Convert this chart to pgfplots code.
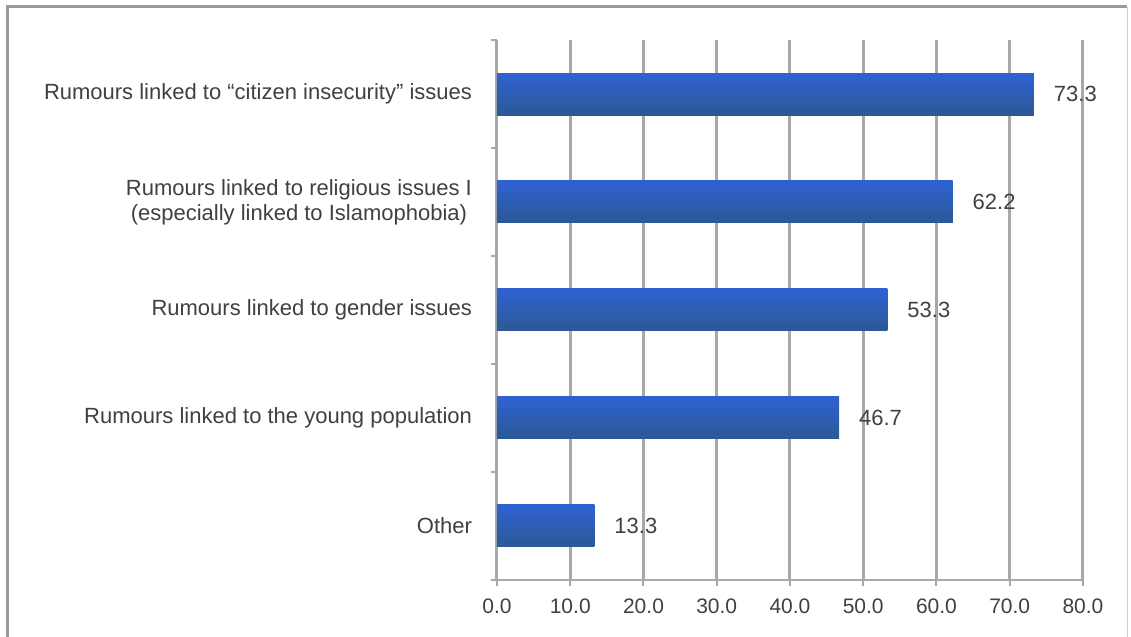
\documentclass[border=0pt]{standalone}
\usepackage{pgfplots}
\pgfplotsset{compat=1.18}
\usepackage{fontspec}
\setmainfont{Liberation Sans}
\definecolor{txt}{HTML}{404040}
\definecolor{gridc}{HTML}{A8A8A8}
\definecolor{bartop}{HTML}{2E62D2}
\definecolor{barbot}{HTML}{2C5894}
\definecolor{framec}{HTML}{9A9A9A}
\begin{document}
\begin{tikzpicture}
\useasboundingbox (0,0) rectangle (565.5pt,318.5pt);
\draw[framec, line width=1.5pt] (3.5pt,0) -- (3.5pt,315pt) -- (563.5pt,315pt);
\draw[framec!50, line width=0.5pt] (563.5pt,315pt) -- (563.5pt,0);
\begin{axis}[
  at={(248.5pt,28.5pt)}, anchor=south west,
  scale only axis, width=293pt, height=270pt,
  xbar, bar width=21pt, bar shift=0pt,
  xmin=0, xmax=80, ymin=-0.5, ymax=4.5,
  xtick={0,10,...,80},
  xticklabel={\pgfmathprintnumber[fixed,fixed zerofill,precision=1]{\tick}},
  /pgf/number format/assume math mode=true,
  ytick={0,1,2,3,4},
  yticklabels={Other, Rumours linked to the young population, Rumours linked to gender issues, {Rumours linked to religious issues I\\(especially linked to Islamophobia)}, Rumours linked to “citizen insecurity” issues},
  yticklabel style={align=center, font=\fontsize{11}{12.5}\selectfont, text=txt, xshift=-6pt},
  xticklabel style={font=\fontsize{10.5}{12}\selectfont, text=txt, yshift=-3pt},
  ytick style={draw=none},
  extra y ticks={-0.5,0.5,1.5,2.5,3.5,4.5},
  extra y tick labels={},
  extra y tick style={ytick style={draw=gridc, line width=1pt}, grid=none},
  tick align=outside,
  major tick length=3pt,
  xtick style={draw=gridc, line width=1pt},
  axis x line*=bottom, axis y line*=left,
  axis line style={draw=gridc, line width=1pt, -},
  xmajorgrids, major grid style={draw=gridc, line width=1.5pt},
  nodes near coords={\pgfmathprintnumber[fixed,fixed zerofill,precision=1]{\pgfplotspointmeta}},
  nodes near coords style={font=\fontsize{11}{12}\selectfont, text=txt, anchor=west, xshift=6.5pt},
  clip=false,
  every axis plot/.append style={draw=none, top color=bartop, bottom color=barbot},
]
\addplot coordinates {(13.3,0)};
\addplot coordinates {(46.7,1)};
\addplot coordinates {(53.3,2)};
\addplot coordinates {(62.2,3)};
\addplot coordinates {(73.3,4)};
\end{axis}
\end{tikzpicture}
\end{document}
